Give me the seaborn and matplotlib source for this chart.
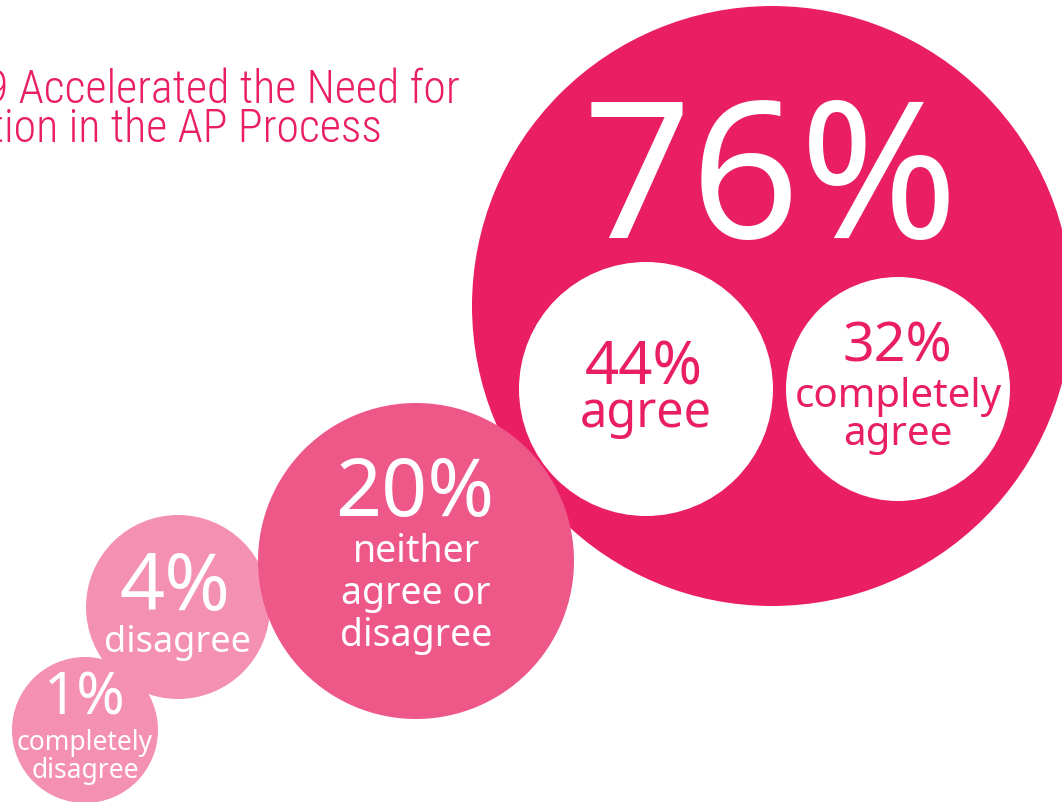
import matplotlib
matplotlib.use("Agg")
import matplotlib.pyplot as plt
from matplotlib import font_manager
import pandas as pd
import seaborn as sns

# data: share of answers, one bubble each
labels = ["completely disagree", "disagree", "agree (total)",
          "neither agree or disagree", "agree", "completely agree"]
pcts = [1, 4, 76, 20, 44, 32]
captions = [["completely", "disagree"], ["disagree"], [],
            ["neither", "agree or", "disagree"], ["agree"], ["completely", "agree"]]
title_lines = ["9 Accelerated the Need for", "ation in the AP Process"]

# layout (pixels on a 1062x803 canvas), same order as the data
cx = [85, 178, 772, 416, 646, 898]
cy = [731, 608, 307, 562, 390, 390]
radius = [73, 92, 300, 158, 127, 112]
fills = ["#F490B2", "#F490B2", "#EA1F63", "#EE5888", "#FFFFFF", "#FFFFFF"]
ink = ["white", "white", "white", "white", "#E91E63", "#E91E63"]
pct_size = [42, 57, 137, 58, 43, 40]
pct_x = [85, 175, 771, 415, 644, 897]
pct_base = [715, 610, 238, 516, 385, 362]
cap_size = [19, 26, 0, 27, 35, 29]
cap_base = [750, 652, 0, 562, 427, 407]
cap_step = [28, 0, 0, 42, 0, 38]

W, H, DPI = 1062, 803, 100
PINK = "#E91E63"

sns.set_theme(style="white")
plt.rcParams["font.family"] = ["Noto Sans", "DejaVu Sans"]


def _weight(f):
    w = f.weight
    return w if isinstance(w, int) else font_manager.weight_dict.get(w, 400)


# title: a thin, narrow face if one is installed
title_prop = None
for cand in ["Roboto Condensed", "Open Sans Condensed", "Liberation Sans Narrow",
             "Roboto", "Open Sans", "Lato", "Noto Sans"]:
    faces = [f for f in font_manager.fontManager.ttflist
             if f.name == cand and f.style == "normal" and _weight(f) <= 400]
    if faces:
        title_prop = font_manager.FontProperties(fname=min(faces, key=_weight).fname)
        break
if title_prop is None:
    title_prop = font_manager.FontProperties(family="DejaVu Sans")
title_prop.set_size(33)

df = pd.DataFrame({"label": labels, "pct": pcts, "x": cx, "y": cy})
# marker diameter in points = 2 * r px * 72 / dpi
size_map = {l: (2 * r * 72 / DPI) ** 2 for l, r in zip(labels, radius)}
color_map = dict(zip(labels, fills))

fig = plt.figure(figsize=(W / DPI, H / DPI), dpi=DPI)
ax = fig.add_axes([0, 0, 1, 1])
sns.scatterplot(data=df, x="x", y="y", hue="label", palette=color_map,
                size="label", sizes=size_map, linewidth=0, legend=False,
                ax=ax, zorder=2)
ax.set_xlim(0, W)
ax.set_ylim(H, 0)
ax.set_axis_off()

for i, p in enumerate(pcts):
    ax.text(pct_x[i], pct_base[i], f"{p}%", color=ink[i], fontsize=pct_size[i],
            ha="center", va="baseline", zorder=5)
    for k, line in enumerate(captions[i]):
        ax.text(cx[i], cap_base[i] + k * cap_step[i], line, color=ink[i],
                fontsize=cap_size[i], ha="center", va="baseline", zorder=5)

# title is cut off by the left edge in the original
ax.text(460, 103, title_lines[0], color=PINK, fontproperties=title_prop,
        ha="right", va="baseline")
ax.text(382, 142, title_lines[1], color=PINK, fontproperties=title_prop,
        ha="right", va="baseline")

fig.savefig("out.png", dpi=DPI, facecolor="white")
